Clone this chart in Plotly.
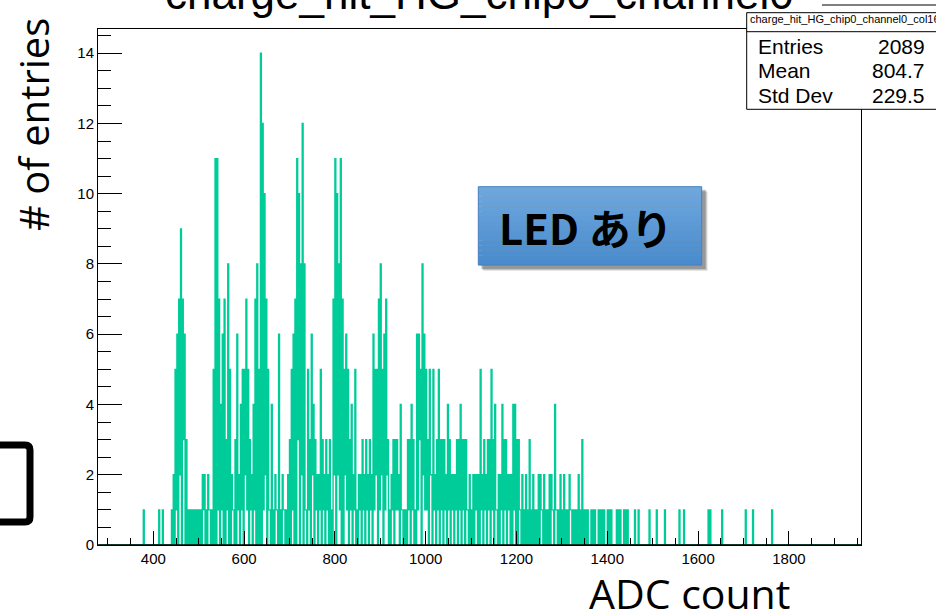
import plotly.graph_objects as go

# ---------------- data (histogram counts, bin width 2 ADC) ----------------
x_start = 280
bin_width = 2

seg_280 = [0,0, 0,0, 0,0, 0,0, 0,0]
seg_300 = [0,0, 0,0, 0,0, 0,0, 0,0, 0,0, 0,0, 0,0, 0,0, 0,0,
           0,0, 0,0, 0,0, 0,0, 0,0, 0,0, 0,0, 0,0, 0,0, 0,1,
           0,0, 0,0, 0,0, 0,0, 0,0]
seg_400 = [0,0, 0,0, 0,0, 1,0, 0,0, 1,0, 0,0, 0,0, 0,0, 0,0, 1,0, 2,0, 5,1, 6,0, 7,2,
           9,0, 7,3, 6,0, 3,0, 1,0, 1,0, 1,0, 1,0, 1,0, 1,0]
seg_500 = [1,0, 1,0, 2,1, 2,0, 1,0, 2,1, 1,0, 1,0, 5,0, 11,0, 11,1, 7,0, 4,1, 6,0, 7,0,
           3,1, 8,0, 5,0, 2,1, 1,0, 3,0, 6,1, 2,0, 4,1, 5,0]
seg_600 = [5,2, 7,1, 5,0, 3,1, 2,0, 4,1, 7,0, 8,0, 5,0, 14,0, 12,1, 10,2, 7,0, 5,1, 1,0,
           4,0, 1,0, 2,1, 1,0, 6,0, 1,0, 2,1, 1,0, 1,0, 2,0]
seg_700 = [3,0, 5,1, 6,0, 7,0, 11,3, 10,0, 8,2, 12,0, 8,1, 1,0, 5,1, 3,0, 6,2, 4,0, 3,1,
           2,0, 2,1, 5,0, 3,1, 2,0, 3,1, 2,0, 3,0, 1,0, 7,2]
seg_800 = [11,0, 10,2, 8,1, 11,0, 7,0, 5,2, 6,1, 5,0, 3,1, 4,0, 2,1, 5,0, 1,0, 2,1, 2,0,
           3,1, 2,0, 3,1, 2,0, 3,1, 2,0, 6,1, 5,2, 5,0, 7,1]
seg_900 = [8,2, 5,0, 6,1, 7,2, 3,0, 1,0, 2,1, 3,0, 3,1, 3,1, 2,0, 4,1, 1,0, 1,0, 1,0,
           3,1, 3,0, 4,1, 3,0, 1,0, 6,1, 6,3, 5,0, 8,2, 6,1]
seg_1000 = [5,1, 3,0, 5,2, 2,0, 5,1, 2,0, 3,1, 5,0, 3,1, 3,0, 3,1, 2,0, 4,1, 3,0, 2,1,
            2,0, 2,1, 3,0, 3,1, 4,0, 3,1, 3,0, 3,1, 1,0, 2,0]
seg_1100 = [1,0, 2,0, 2,1, 2,0, 2,0, 5,1, 2,0, 3,1, 2,0, 3,1, 3,0, 5,1, 3,0, 4,1, 1,0,
            2,0, 2,1, 4,0, 3,1, 3,0, 2,1, 2,0, 2,0, 4,1, 4,0]
seg_1200 = [3,0, 3,1, 1,0, 2,0, 1,0, 2,0, 1,0, 3,0, 1,0, 2,0, 1,0, 1,0, 2,0, 2,1, 1,0,
            2,0, 1,0, 1,0, 2,0, 2,1, 1,0, 4,1, 1,0, 1,0, 2,0]
seg_1300 = [1,0, 2,0, 1,0, 1,0, 2,1, 1,0, 1,0, 1,0, 1,0, 2,0, 1,0, 3,0, 1,0, 1,0, 1,0,
            0,0, 1,0, 1,0, 1,0, 0,0, 1,0, 1,0, 1,0, 1,0, 0,0]
seg_1400 = [1,0, 1,0, 1,0, 0,0, 0,0, 1,0, 1,0, 1,0, 0,0, 1,0, 1,0, 1,0, 0,0, 0,0, 0,0,
            1,0, 0,0, 1,0, 0,0, 0,0, 0,0, 0,0, 0,0, 1,0, 0,0]
seg_1500 = [0,0, 0,0, 1,0, 0,0, 0,0, 0,0, 0,1, 0,0, 0,0, 0,0, 0,0, 0,0, 0,0, 0,0, 0,1,
            0,0, 0,0, 1,0, 0,0, 0,0, 0,0, 0,0, 0,0, 0,0, 0,0]
seg_1600 = [0,0, 0,0, 0,0, 0,0, 0,0, 0,1, 0,1, 0,0, 0,0, 0,0, 0,0, 0,0, 0,0, 1,0, 0,0,
            0,0, 0,0, 0,0, 0,0, 0,0, 0,0, 0,0, 0,0, 0,0, 0,0]
seg_1700 = [0,0, 1,0, 0,0, 0,0, 0,0, 1,0, 0,0, 0,0, 0,0, 0,0, 0,0, 0,0, 0,0, 0,0, 0,0,
            0,1, 0,0, 0,0, 0,0, 0,0, 0,0, 0,0, 0,0, 0,0, 0,0]
seg_1800 = [0,0, 0,0, 0,0, 0,0, 0,0, 0,0, 0,0, 0,0, 0,0, 0,0, 0,0, 0,0, 0,0, 0,0, 0,0,
            0,0, 0,0, 0,0, 0,0, 0,0, 0,0, 0,0, 0,0, 0,0, 0,0]
seg_1900 = [0,0, 0,0, 0,0, 0,0, 0,0, 0,0, 0,0, 0,0, 0,0, 0,0, 0,0, 0,0, 0,0, 0,0, 0,0]

stats_name = "charge_hit_HG_chip0_channel0_col16"
stats_labels = ["Entries", "Mean", "Std Dev"]
stats_values = ["2089", "804.7", "229.5"]
title_text = "charge_hit_HG_chip0_channel0"
x_title = "ADC count"
y_title = "# of entries"
box_text = "LED あり"

counts = (seg_280 + seg_300 + seg_400 + seg_500 + seg_600 + seg_700 + seg_800 +
          seg_900 + seg_1000 + seg_1100 + seg_1200 + seg_1300 + seg_1400 +
          seg_1500 + seg_1600 + seg_1700 + seg_1800 + seg_1900)
edges = [x_start + bin_width * i for i in range(len(counts) + 1)]
step_y = counts + [counts[-1]]

x_range = [278.2, 1958.8]
y_range = [0, 14.69]

# ---------------- geometry helpers (pixel -> paper) ----------------
W, H = 936, 610
L, R, T, B = 98, 861, 29, 545


def px(x):
    return (x - L) / (R - L)


def py(y):
    return (B - y) / (B - T)


fig = go.Figure()
fig.add_trace(go.Scatter(
    x=edges, y=step_y, mode="lines",
    line=dict(shape="hv", color="#00CC99", width=1.4, simplify=False),
    hoverinfo="skip", showlegend=False,
))

axis_font = dict(family="Liberation Sans, Arial, sans-serif", size=15, color="black")
fig.update_xaxes(
    range=x_range, showline=True, linecolor="black", linewidth=1, mirror=True,
    ticks="inside", ticklen=14, tickwidth=1, tickcolor="black",
    tick0=0, dtick=200, showgrid=False, zeroline=False, tickfont=axis_font,
    minor=dict(ticks="inside", dtick=50, tick0=0, ticklen=7, tickcolor="black", showgrid=False),
    automargin=False,
)
fig.update_yaxes(
    range=y_range, showline=True, linecolor="black", linewidth=1, mirror=True,
    ticks="inside", ticklen=24, tickwidth=1, tickcolor="black",
    tick0=0, dtick=2, showgrid=False, zeroline=False, tickfont=axis_font,
    minor=dict(ticks="inside", dtick=0.5, tick0=0, ticklen=13, tickcolor="black", showgrid=False),
    automargin=False,
)

shapes = []
annotations = []

# black baseline drawn over the zero-level of the histogram (axis on top, as in ROOT)
shapes.append(dict(type="line", xref="x", yref="y", x0=x_range[0], x1=x_range[1], y0=0, y1=0,
                   line=dict(color="black", width=1.5), layer="above"))

# stats box
shapes.append(dict(type="rect", xref="paper", yref="paper",
                   x0=px(746.7), x1=px(950), y0=py(109.3), y1=py(12.7),
                   fillcolor="white", line=dict(color="black", width=1), layer="above"))
shapes.append(dict(type="line", xref="paper", yref="paper",
                   x0=px(746.7), x1=px(950), y0=py(31.7), y1=py(31.7),
                   line=dict(color="black", width=1), layer="above"))
shapes.append(dict(type="line", xref="paper", yref="paper",
                   x0=px(822), x1=px(950), y0=py(5), y1=py(5),
                   line=dict(color="black", width=1), layer="above"))
annotations.append(dict(text=stats_name, xref="paper", yref="paper",
                        x=px(748), y=py(19), xanchor="left", yanchor="middle",
                        showarrow=False,
                        font=dict(family="Liberation Sans Narrow, Liberation Sans, Arial", size=11, color="black")))
row_y = [46.7, 70.7, 95.0]
for lab, val, yy in zip(stats_labels, stats_values, row_y):
    annotations.append(dict(text=lab, xref="paper", yref="paper", x=px(756), y=py(yy),
                            xanchor="left", yanchor="middle", showarrow=False,
                            font=dict(family="Liberation Sans, Arial", size=21, color="black")))
    annotations.append(dict(text=val, xref="paper", yref="paper", x=px(927), y=py(yy),
                            xanchor="right", yanchor="middle", showarrow=False,
                            font=dict(family="Liberation Sans, Arial", size=21, color="black")))

# title (cut off at top of image)
annotations.append(dict(text=title_text, xref="paper", yref="paper", x=px(479), y=py(-7),
                        xanchor="center", yanchor="middle", showarrow=False,
                        font=dict(family="Liberation Sans, Arial", size=44, color="black")))

# big axis titles
annotations.append(dict(text=y_title, xref="paper", yref="paper", x=px(33), y=py(125),
                        xanchor="center", yanchor="middle", textangle=-90, showarrow=False,
                        font=dict(family="Open Sans, sans-serif", size=40, color="black")))
annotations.append(dict(text=x_title, xref="paper", yref="paper", x=px(689), y=py(593),
                        xanchor="center", yanchor="middle", showarrow=False,
                        font=dict(family="Open Sans, sans-serif", size=41, color="black")))

# LED box: shadow, gradient, border
bx0, bx1, by0, by1 = 478.3, 701.7, 186.7, 265.0
for off, alpha in [(6, 0.10), (5, 0.15), (4, 0.22)]:
    shapes.append(dict(type="rect", xref="paper", yref="paper",
                       x0=px(bx0 + off - 1), x1=px(bx1 + off), y0=py(by1 + off), y1=py(by0 + off - 1),
                       fillcolor=f"rgba(0,0,0,{alpha})", line=dict(width=0), layer="above"))
n_strips = 16
top_c = (112, 168, 222)
bot_c = (72, 138, 204)
for i in range(n_strips):
    f = (i + 0.5) / n_strips
    c = tuple(int(round(top_c[k] + (bot_c[k] - top_c[k]) * f)) for k in range(3))
    y0s = by0 + (by1 - by0) * i / n_strips
    y1s = by0 + (by1 - by0) * (i + 1) / n_strips
    shapes.append(dict(type="rect", xref="paper", yref="paper",
                       x0=px(bx0), x1=px(bx1), y0=py(y1s + 0.3), y1=py(y0s),
                       fillcolor=f"rgb{c}", line=dict(width=0), layer="above"))
shapes.append(dict(type="rect", xref="paper", yref="paper",
                   x0=px(bx0), x1=px(bx1), y0=py(by1), y1=py(by0),
                   fillcolor="rgba(0,0,0,0)", line=dict(color="rgb(70,128,190)", width=1), layer="above"))
annotations.append(dict(text="<b>" + box_text + "</b>", xref="paper", yref="paper",
                        x=px(586), y=py(226), xanchor="center", yanchor="middle", showarrow=False,
                        font=dict(family="Noto Sans CJK JP, Noto Sans, sans-serif", size=42, color="black")))

# black bracket at left edge
path = (f"M {px(-20)},{py(445)} L {px(25)},{py(445)} "
        f"Q {px(30)},{py(445)} {px(30)},{py(450)} L {px(30)},{py(517)} "
        f"Q {px(30)},{py(522)} {px(25)},{py(522)} L {px(-20)},{py(522)}")
shapes.append(dict(type="path", xref="paper", yref="paper", path=path,
                   line=dict(color="black", width=7), layer="above"))

fig.update_layout(
    width=W, height=H,
    margin=dict(l=L, r=W - R, t=T, b=H - B, pad=0),
    paper_bgcolor="white", plot_bgcolor="white",
    showlegend=False, shapes=shapes, annotations=annotations,
)

fig.write_html("out.html", config={"displayModeBar": False},
               post_script="document.body.style.margin='0px';")
